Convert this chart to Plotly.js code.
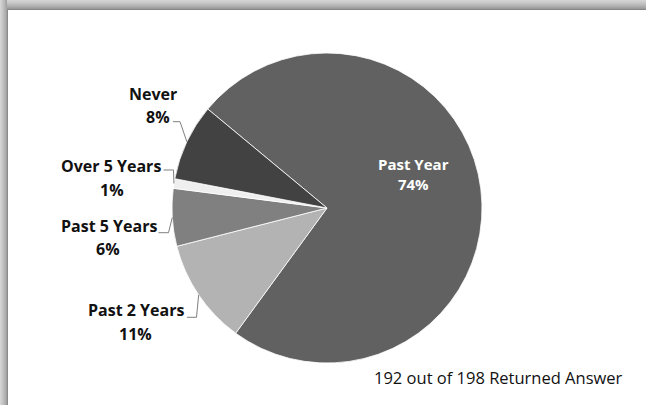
<!DOCTYPE html>
<html>
<head>
<meta charset="utf-8">
<script src="https://cdn.plot.ly/plotly-3.0.1.min.js"></script>
<style>
  html, body { margin: 0; padding: 0; background: #fff; overflow: hidden; }
  #chart { position: absolute; left: 0; top: 0; width: 646px; height: 405px; }
</style>
</head>
<body>
<div id="chart"></div>
<script>
// ---- data ----
const categories = ["Past Year", "Past 2 Years", "Past 5 Years", "Over 5 Years", "Never"];
const percents   = [74, 11, 6, 1, 8];
const sliceColors = ["#616161", "#b3b3b3", "#808080", "#efefef", "#424242"];
const footnote = "192 out of 198 Returned Answer";

// ---- geometry (pixels) ----
const W = 646, H = 405;
const M = {l: 172, r: 164, t: 53, b: 42};
const R = (W - M.l - M.r) / 2;             // pie radius
const CX = M.l + R, CY = M.t + R;           // pie centre
const ROT = -50.3;                          // start angle of first slice (deg, clockwise from 12 o'clock)
const X = px => (px - M.l) / (W - M.l - M.r);
const Y = py => (H - M.b - py) / (H - M.t - M.b);
const FONT = "'Open Sans', Lato, sans-serif";

// label layout: [name centre x, name centre y, pct centre x, pct centre y, elbow x, elbow y, line start x]
const labelLayout = {
  "Past Year":    [413, 174, null, null, null, null, null],
  "Never":        [153, 93.5, 158, 117.5, 180, 121.7, 173],
  "Over 5 Years": [111, 165.5, 112, 190, 173.5, 170, 163.5],
  "Past 5 Years": [109, 226, 108, 249.5, 168.5, 232.7, 158.5],
  "Past 2 Years": [136, 309.5, 135, 333.5, 196.5, 317.3, 187]
};

const total = percents.reduce((a, b) => a + b, 0);
const annotations = [];
const shapes = [];

// window frame shadow (top and left gray bands)
const topGrays  = ["#d4d4d4", "#cfcfcf", "#c9c9c9", "#c3c3c3", "#bcbcbc", "#b5b5b5", "#adadad", "#a4a4a4", "#9a9a9a", "#868686"];
const leftGrays = ["#d4d4d4", "#cdcdcd", "#c6c6c6", "#bebebe", "#b6b6b6", "#adadad", "#a2a2a2", "#8a8a8a"];
topGrays.forEach((c, k) => shapes.push({type: "rect", xref: "paper", yref: "paper", layer: "above",
  x0: X(k < 9 ? 0 : 7), x1: X(W), y0: Y(k), y1: Y(k + 1), fillcolor: c, line: {width: 0}}));
leftGrays.forEach((c, k) => shapes.push({type: "rect", xref: "paper", yref: "paper", layer: "above",
  x0: X(k), x1: X(k + 1), y0: Y(k < 7 ? 0 : 9), y1: Y(H), fillcolor: c, line: {width: 0}}));

let cum = 0;
categories.forEach((cat, i) => {
  const mid = (ROT + (cum + percents[i] / 2) / total * 360) * Math.PI / 180;
  cum += percents[i];
  const L = labelLayout[cat];
  const inside = cat === "Past Year";
  if (inside) {
    annotations.push({xref: "paper", yref: "paper", x: X(L[0]), y: Y(L[1]), xanchor: "center", yanchor: "middle",
      text: "<b>" + cat + "</b><br><b>" + percents[i] + "%</b>", showarrow: false,
      font: {family: FONT, size: 15, color: "#ffffff"}});
    return;
  }
  const fc = "#111111", fs = 16;
  annotations.push({xref: "paper", yref: "paper", x: X(L[0]), y: Y(L[1]), xanchor: "center", yanchor: "middle",
    text: "<b>" + cat + "</b>", showarrow: false, font: {family: FONT, size: fs, color: fc}});
  annotations.push({xref: "paper", yref: "paper", x: X(L[2]), y: Y(L[3]), xanchor: "center", yanchor: "middle",
    text: "<b>" + percents[i] + "%</b>", showarrow: false, font: {family: FONT, size: fs, color: fc}});
  const ex = CX + R * Math.sin(mid), ey = CY - R * Math.cos(mid);
  shapes.push({type: "path", xref: "paper", yref: "paper",
    path: `M ${X(L[6])} ${Y(L[5])} L ${X(L[4])} ${Y(L[5])} L ${X(ex)} ${Y(ey)}`,
    line: {color: "#7f7f7f", width: 1}});
});

annotations.push({xref: "paper", yref: "paper", x: X(498), y: Y(377), xanchor: "center", yanchor: "middle",
  text: footnote, showarrow: false, font: {family: FONT, size: 16.5, color: "#111111"}});

const trace = {
  type: "pie",
  labels: categories,
  values: percents,
  sort: false,
  direction: "clockwise",
  rotation: ROT,
  textinfo: "none",
  hoverinfo: "label+percent",
  marker: {colors: sliceColors, line: {color: "#ffffff", width: 0.8}},
  domain: {x: [0, 1], y: [0, 1]}
};

const layout = {
  width: W, height: H,
  margin: M,
  paper_bgcolor: "#ffffff",
  plot_bgcolor: "#ffffff",
  showlegend: false,
  annotations: annotations,
  shapes: shapes
};

Plotly.newPlot("chart", [trace], layout, {displayModeBar: false, staticPlot: true});
</script>
</body>
</html>
